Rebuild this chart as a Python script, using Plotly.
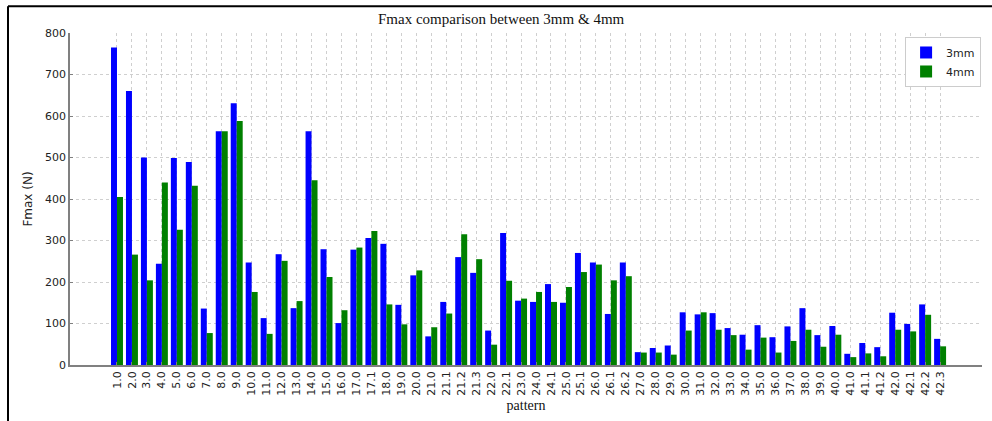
import plotly.graph_objects as go

# pattern identifiers along the x axis
patterns = [
    "1.0", "2.0", "3.0", "4.0", "5.0", "6.0", "7.0", "8.0", "9.0", "10.0",
    "11.0", "12.0", "13.0", "14.0", "15.0", "16.0", "17.0", "17.1", "18.0", "19.0",
    "20.0", "21.0", "21.1", "21.2", "21.3", "22.0", "22.1", "23.0", "24.0", "24.1",
    "25.0", "25.1", "26.0", "26.1", "26.2", "27.0", "28.0", "29.0", "30.0", "31.0",
    "32.0", "33.0", "34.0", "35.0", "36.0", "37.0", "38.0", "39.0", "40.0", "41.0",
    "41.1", "41.2", "42.0", "42.1", "42.2", "42.3",
]

# peak force (N) per pattern
fmax_3mm = [
    765, 660, 500, 244, 499, 489, 136, 563, 631, 247,
    113, 267, 137, 563, 279, 101, 278, 306, 292, 145,
    216, 69, 152, 260, 222, 83, 318, 155, 152, 195,
    150, 270, 247, 123, 247, 31, 41, 47, 127, 122,
    125, 89, 73, 96, 67, 93, 137, 72, 94, 27,
    53, 43, 126, 99, 146, 63,
]
fmax_4mm = [
    405, 266, 204, 440, 326, 432, 77, 563, 588, 176,
    75, 251, 154, 445, 212, 132, 283, 323, 146, 98,
    228, 91, 124, 315, 255, 49, 203, 160, 176, 152,
    188, 224, 242, 204, 214, 30, 30, 25, 83, 127,
    85, 72, 37, 66, 30, 58, 85, 44, 73, 19,
    28, 21, 85, 81, 121, 45,
]

y_ticks = [0, 100, 200, 300, 400, 500, 600, 700, 800]

fig = go.Figure()
fig.add_trace(go.Bar(x=patterns, y=fmax_3mm, name="3mm",
                     marker=dict(color="#0000ff", line=dict(width=0))))
fig.add_trace(go.Bar(x=patterns, y=fmax_4mm, name="4mm",
                     marker=dict(color="#008000", line=dict(width=0))))

W, H = 992, 421
L, R, T, B = 70, 10, 33, 54
pw, ph = W - L - R, H - T - B


def px_x(x):
    return (x - L) / pw


def px_y(y):
    return (H - B - y) / ph


fig.update_layout(
    width=W, height=H,
    margin=dict(l=L, r=R, t=T, b=B, pad=0),
    paper_bgcolor="white", plot_bgcolor="white",
    barmode="group", bargap=0.2, bargroupgap=0,
    font=dict(family="DejaVu Sans", size=11, color="#222"),
    showlegend=True,
    legend=dict(x=0.999, y=0.988, xanchor="right", yanchor="top",
                bgcolor="white", bordercolor="#cccccc", borderwidth=1,
                font=dict(family="DejaVu Sans", size=11, color="#222"),
                itemwidth=30, tracegroupgap=0),
    xaxis=dict(
        type="category",
        categoryorder="array", categoryarray=patterns,
        range=[-3.14, 57.8],
        tickangle=-90,
        tickfont=dict(family="DejaVu Sans", size=11, color="#222"),
        showgrid=True, gridcolor="#cfcfcf", griddash="dot", gridwidth=1,
        showline=True, linecolor="#808080", linewidth=1.5,
        ticks="inside", ticklen=3, tickcolor="#808080",
        zeroline=False,
        title=dict(text="pattern", standoff=6,
                   font=dict(family="Liberation Serif", size=14, color="#111")),
    ),
    yaxis=dict(
        range=[0, 800],
        tickvals=y_ticks,
        tickfont=dict(family="DejaVu Sans", size=11, color="#222"),
        showgrid=True, gridcolor="#cfcfcf", griddash="dot", gridwidth=1,
        showline=True, linecolor="#808080", linewidth=1.5,
        ticks="inside", ticklen=3, tickcolor="#808080",
        zeroline=False,
        title=dict(text="Fmax (N)", standoff=10,
                   font=dict(family="DejaVu Sans", size=12, color="#222")),
    ),
    annotations=[dict(
        text="Fmax comparison between 3mm & 4mm",
        xref="paper", yref="paper", x=px_x(501), y=px_y(19),
        xanchor="center", yanchor="middle", showarrow=False,
        font=dict(family="Liberation Serif", size=15, color="#111"),
    )],
    shapes=[
        dict(type="line", xref="paper", yref="paper",
             x0=px_x(8), x1=px_x(W + 5), y0=px_y(6), y1=px_y(6),
             line=dict(color="black", width=2)),
        dict(type="line", xref="paper", yref="paper",
             x0=px_x(8), x1=px_x(8), y0=px_y(6), y1=px_y(H + 5),
             line=dict(color="black", width=2)),
    ],
)

fig.write_html("out.html")
